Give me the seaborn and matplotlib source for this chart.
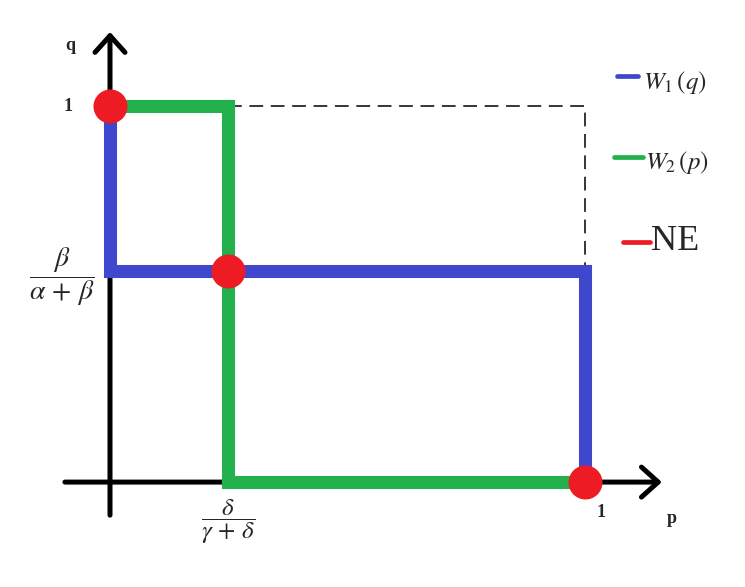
import matplotlib
matplotlib.use('Agg')
import matplotlib.pyplot as plt
import numpy as np
import pandas as pd
import seaborn as sns

sns.set_theme(style="white")
plt.rcParams['font.family'] = ['Liberation Serif', 'DejaVu Serif']
plt.rcParams['mathtext.fontset'] = 'stix'

# equilibrium values
p_star = 0.248   # delta / (gamma + delta)
q_star = 0.561   # beta / (alpha + beta)

# best responses
w1_p = [0, 0, 1, 1]
w1_q = [1, q_star, q_star, 0]
w2_p = [0, p_star, p_star, 1]
w2_q = [1, 1, 0, 0]

# Nash equilibria
ne_p = [0, p_star, 1]
ne_q = [1, q_star, 0]

# dashed box corner
box_p = [p_star, 1, 1]
box_q = [1, 1, q_star]

blue = '#3F48CC'
green = '#22B14C'
red = '#ED1C24'

fig = plt.figure(figsize=(7.45, 5.87), dpi=100)
ax = fig.add_axes([0, 0, 1, 1])
ax.set_xlim(-0.2316, 1.337)
ax.set_ylim(-0.279, 1.282)
ax.axis('off')

# axes with open arrow heads
arrow = dict(arrowstyle='->,head_length=1.0,head_width=0.9', lw=3.6, color='black',
             shrinkA=0, shrinkB=0)
ax.annotate('', xy=(1.162, 0), xytext=(-0.095, 0), arrowprops=arrow, zorder=1)
ax.annotate('', xy=(0, 1.197), xytext=(0, -0.088), arrowprops=arrow, zorder=1)

# dashed guide
ax.plot(box_p, box_q, color='black', lw=1.1, ls=(0, (9, 5)), zorder=2)

df1 = pd.DataFrame({'p': w1_p, 'q': w1_q})
df2 = pd.DataFrame({'p': w2_p, 'q': w2_q})
sns.lineplot(data=df1, x='p', y='q', sort=False, estimator=None, color=blue, lw=9.4,
             ax=ax, zorder=3, solid_joinstyle='miter', solid_capstyle='butt')
sns.lineplot(data=df2, x='p', y='q', sort=False, estimator=None, color=green, lw=9.4,
             ax=ax, zorder=3, solid_joinstyle='miter', solid_capstyle='butt')
sns.scatterplot(x=ne_p, y=ne_q, color=red, s=600, linewidth=0, ax=ax, zorder=5)

# axis labels and ticks
ax.text(-0.084, 1.162, 'q', fontsize=13, fontweight='bold', ha='center', va='center')
ax.text(-0.088, 1.0, '1', fontsize=13, fontweight='bold', ha='center', va='center')
ax.text(-0.101, 0.545, r'$\dfrac{\beta}{\alpha\,+\,\beta}$', fontsize=20, ha='center', va='center')
ax.text(p_star, -0.105, r'$\dfrac{\delta}{\gamma\,+\,\delta}$', fontsize=18, ha='center', va='center')
ax.text(1.034, -0.08, '1', fontsize=13, fontweight='bold', ha='center', va='center')
ax.text(1.183, -0.096, 'p', fontsize=13, fontweight='bold', ha='center', va='center')

# hand-made legend
tr = ax.transAxes
legend = [(617, 638, 76, blue, r'$W_1\,(q)$', 643, 82, 18),
          (614, 643, 157, green, r'$W_2\,(p)$', 645, 163, 18),
          (623, 650, 242, red, 'NE', 651, 242, 26)]
for x0, x1, y, c, label, tx, ty, fs in legend:
    ax.plot([x0 / 745, x1 / 745], [1 - y / 587, 1 - y / 587], color=c, lw=3.4,
            solid_capstyle='round', transform=tr)
    ax.text(tx / 745, 1 - ty / 587, label, fontsize=fs, ha='left', va='center', transform=tr)

fig.savefig('out.png', dpi=100)
